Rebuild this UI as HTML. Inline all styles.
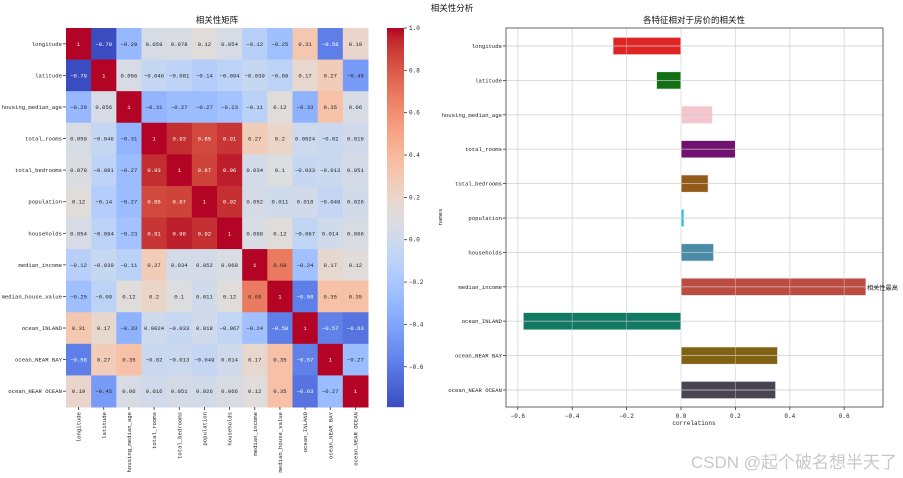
<!DOCTYPE html>
<html><head><meta charset="utf-8"><style>
body{margin:0;background:#fff;}
svg{display:block;font-family:"Liberation Sans","Noto Sans CJK SC",sans-serif;}
.m{font-family:"Liberation Mono","Noto Sans CJK SC",monospace;}
</style></head><body>
<svg id="s" width="903" height="478" viewBox="0 0 903 478">
<text x="452" y="11" font-size="8.5" text-anchor="middle" fill="#111">相关性分析</text>
<text x="217" y="23" font-size="8.5" text-anchor="middle" fill="#111">相关性矩阵</text>
<text x="694" y="23" font-size="8.5" text-anchor="middle" fill="#111">各特征相对于房价的相关性</text>
<g id="hm"></g>
<g id="cb"></g>
<g id="bc"></g>
<text x="897" y="468" font-size="17" text-anchor="end" fill="#c8c8c8">CSDN @起个破名想半天了</text>
</svg>
<script>
const labels = ["longitude","latitude","housing_median_age","total_rooms","total_bedrooms","population","households","median_income","median_house_value","ocean_INLAND","ocean_NEAR BAY","ocean_NEAR OCEAN"];
const matrix = [
[1,-0.79,-0.29,0.059,0.078,0.12,0.054,-0.12,-0.25,0.31,-0.58,0.19],
[-0.79,1,0.056,-0.046,-0.081,-0.14,-0.094,-0.039,-0.09,0.17,0.27,-0.45],
[-0.29,0.056,1,-0.31,-0.27,-0.27,-0.23,-0.11,0.12,-0.33,0.35,0.06],
[0.059,-0.046,-0.31,1,0.93,0.85,0.91,0.27,0.2,0.0024,-0.02,0.016],
[0.078,-0.081,-0.27,0.93,1,0.87,0.96,0.034,0.1,-0.033,-0.013,0.051],
[0.12,-0.14,-0.27,0.85,0.87,1,0.92,0.052,0.011,0.018,-0.049,0.026],
[0.054,-0.094,-0.23,0.91,0.96,0.92,1,0.068,0.12,-0.067,0.014,0.066],
[-0.12,-0.039,-0.11,0.27,0.034,0.052,0.068,1,0.68,-0.24,0.17,0.12],
[-0.25,-0.09,0.12,0.2,0.1,0.011,0.12,0.68,1,-0.58,0.35,0.35],
[0.31,0.17,-0.33,0.0024,-0.033,0.018,-0.067,-0.24,-0.58,1,-0.57,-0.63],
[-0.58,0.27,0.35,-0.02,-0.013,-0.049,0.014,0.17,0.35,-0.57,1,-0.27],
[0.19,-0.45,0.06,0.016,0.051,0.026,0.066,0.12,0.35,-0.63,-0.27,1]];
const cbTicks = [1.0,0.8,0.6,0.4,0.2,0.0,-0.2,-0.4,-0.6];
const barNames = ["longitude","latitude","housing_median_age","total_rooms","total_bedrooms","population","households","median_income","ocean_INLAND","ocean_NEAR BAY","ocean_NEAR OCEAN"];
const barValues = [-0.25,-0.09,0.115,0.2,0.1,0.011,0.12,0.68,-0.58,0.355,0.348];
const barColors = ["#e02424","#127012","#f5c6cf","#701070","#945a18","#22bfe0","#4a8ca8","#bd4c40","#127a62","#806212","#4a4452"];
const xTicks = [-0.6,-0.4,-0.2,0.0,0.2,0.4,0.6];

const NS="http://www.w3.org/2000/svg";
const FS=5.6;
function mk(p,t,a,txt){const e=document.createElementNS(NS,t);for(const k in a)e.setAttribute(k,a[k]);if(txt!==undefined)e.textContent=txt;p.appendChild(e);return e;}
const cw=[[59,76,192],[68,90,204],[77,104,215],[87,117,225],[98,130,234],[108,142,241],[119,154,247],[130,165,251],[141,176,254],[152,185,255],[163,194,255],[174,201,253],[184,208,249],[194,213,244],[204,217,238],[213,219,230],[221,221,221],[229,216,209],[236,211,197],[241,204,184],[245,196,172],[247,187,160],[247,177,148],[247,166,135],[244,154,123],[241,141,111],[236,127,99],[229,112,88],[222,96,77],[213,80,66],[203,62,56],[192,40,47],[180,4,38]];
const vmin=-0.79,vmax=1;
function cmap(v){let t=Math.max(0,Math.min(1,(v-vmin)/(vmax-vmin)))*32;const i=Math.min(31,Math.floor(t)),f=t-i;const a=cw[i],b=cw[i+1];return a.map((x,k)=>Math.round(x+(b[k]-x)*f));}
const hm=document.getElementById('hm');
const HX=66,HY=28,HW=302,HH=379,n=labels.length,cwid=HW/n,ch=HH/n;
const cx=i=>HX+i*cwid, cy=j=>HY+j*ch;
for(let r=0;r<n;r++)for(let c=0;c<n;c++){
 const v=matrix[r][c],col=cmap(v);
 const rect=mk(hm,'rect',{x:cx(c),y:cy(r),width:cwid+0.5,height:ch+0.5,fill:`rgb(${col})`});
 
 
 const lum=(0.299*col[0]+0.587*col[1]+0.114*col[2]);
 const t=mk(hm,'text',{class:'m',x:cx(c)+cwid/2,y:cy(r)+ch/2+2,'font-size':FS,'text-anchor':'middle',fill:lum<140?'#fff':'#262626'},String(v).replace('-','\u2212'));
 
 
}
for(let i=0;i<n;i++){
 const y=cy(i)+ch/2;
 mk(hm,'line',{x1:HX-3,x2:HX,y1:y,y2:y,stroke:'#333','stroke-width':0.8});
 const t=mk(hm,'text',{class:'m',x:HX-4,y:y+2,'font-size':FS,'text-anchor':'end',fill:'#222'},labels[i]);
 
 
 const x=cx(i)+cwid/2;
 mk(hm,'line',{x1:x,x2:x,y1:HY+HH,y2:HY+HH+3,stroke:'#333','stroke-width':0.8});
 const t2=mk(hm,'text',{class:'m',x:0,y:0,'font-size':FS,'text-anchor':'end',fill:'#222',transform:`translate(${x+2},${HY+HH+5}) rotate(-90)`},labels[i]);
 
 
}
const cb=document.getElementById('cb');
const CX=387,CW=17;
const cby=v=>HY+HH-(v-vmin)/(vmax-vmin)*HH;
for(let k=0;k<HH;k++){const v=vmax-(k+0.5)/HH*(vmax-vmin);mk(cb,'rect',{x:CX,y:HY+k,width:CW,height:1.2,fill:`rgb(${cmap(v)})`});}
cbTicks.forEach(v=>{const y=cby(v);mk(cb,'line',{x1:CX+CW,x2:CX+CW+3,y1:y,y2:y,stroke:'#333','stroke-width':0.8});
 const t=mk(cb,'text',{class:'m',x:CX+CW+5,y:y+2,'font-size':FS+0.4,fill:'#222'},v.toFixed(1).replace('-','\u2212'));
 
 });
const bc=document.getElementById('bc');
const BX=506,BR=883,BY=28,BB=407;
const xs=v=>681+v*272;
const ys=i=>46+i*34.4;
xTicks.forEach(v=>{const x=xs(v);mk(bc,'line',{x1:x,x2:x,y1:BY,y2:BB,stroke:'#d0d0d0','stroke-width':0.9});
 mk(bc,'line',{x1:x,x2:x,y1:BB,y2:BB+3,stroke:'#333','stroke-width':0.8});
 const t=mk(bc,'text',{class:'m',x:x,y:BB+11,'font-size':FS+0.4,'text-anchor':'middle',fill:'#222'},v.toFixed(1).replace('-','\u2212'));
 
 });
barValues.forEach((v,i)=>{const y=ys(i);const x0=Math.min(xs(0),xs(v)),w=Math.abs(xs(v)-xs(0));
 const r=mk(bc,'rect',{x:x0,y:y-8.7,width:w,height:17.4,fill:barColors[i],stroke:'#f0f0f0','stroke-width':0.8});
 
 });
xTicks.forEach(v=>{const x=xs(v);mk(bc,'line',{x1:x,x2:x,y1:BY,y2:BB,stroke:'#fff','stroke-opacity':0.35,'stroke-width':0.9});});
barNames.forEach((nm,i)=>{const y=ys(i);mk(bc,'line',{x1:BX,x2:BR,y1:y,y2:y,stroke:'#ccc','stroke-opacity':0.8,'stroke-width':0.9});
 mk(bc,'line',{x1:BX-3,x2:BX,y1:y,y2:y,stroke:'#333','stroke-width':0.8});
 const t=mk(bc,'text',{class:'m',x:BX-4,y:y+2,'font-size':FS,'text-anchor':'end',fill:'#222'},nm);
 
 });
mk(bc,'rect',{x:BX,y:BY,width:BR-BX,height:BB-BY,fill:'none',stroke:'#555','stroke-width':0.9});
const mi=barValues.indexOf(Math.max(...barValues));
const ann=mk(bc,'text',{x:xs(barValues[mi])+1,y:ys(mi)+3,'font-size':6.2,fill:'#222'},'相关性最高');


const xl=mk(bc,'text',{class:'m',x:694,y:425,'font-size':FS+0.4,'text-anchor':'middle',fill:'#222'},'correlations');


const yl=mk(bc,'text',{class:'m',x:0,y:0,'font-size':FS,'text-anchor':'middle',fill:'#222',transform:'translate(442,217) rotate(-90)'},'names');


</script>
</body></html>
